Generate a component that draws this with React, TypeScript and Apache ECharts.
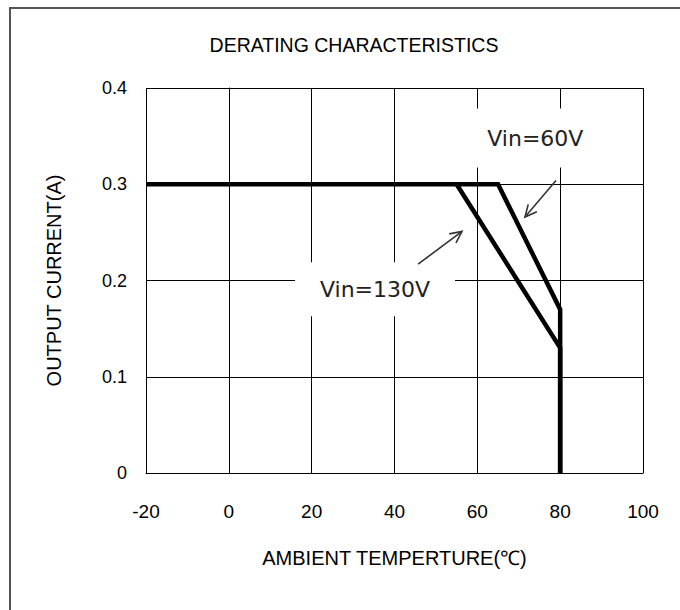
import React, { useEffect, useRef } from "react";
import * as echarts from "echarts";

const xTicks = [-20, 0, 20, 40, 60, 80, 100];
const yTicks = [0, 0.1, 0.2, 0.3, 0.4];
const vin60: [number, number][] = [[-20, 0.3], [65, 0.3], [80, 0.17], [80, 0]];
const vin130: [number, number][] = [[55, 0.3], [80, 0.13], [80, 0]];
const label60 = { text: "Vin=60V", at: [74, 0.348] };
const label130 = { text: "Vin=130V", at: [35.3, 0.191] };
const arrow60 = { from: [79, 0.304], to: [71.5, 0.266] };
const arrow130 = { from: [45.7, 0.217], to: [56.3, 0.251] };

const FONT = "Liberation Sans";

export default function App() {
  const ref = useRef<HTMLDivElement>(null);
  useEffect(() => {
    if (!ref.current) return;
    const chart = echarts.init(ref.current, null, { renderer: "svg" });
    const option: any = {
      animation: false,
      backgroundColor: "#fff",
      title: {
        text: "DERATING CHARACTERISTICS",
        left: 349,
        top: 30,
        textAlign: "center",
        textStyle: { fontFamily: FONT, fontSize: 19.5, fontWeight: "normal", color: "#000" },
      },
      grid: { left: 146, right: 37, top: 88, bottom: 137 },
      xAxis: {
        type: "value",
        min: xTicks[0],
        max: xTicks[xTicks.length - 1],
        interval: 20,
        name: "AMBIENT TEMPERTURE(℃)",
        nameLocation: "middle",
        nameGap: 75,
        nameMoveOverlap: false,
        nameTextStyle: { fontFamily: FONT, fontSize: 20, color: "#000" },
        axisLine: { show: true, lineStyle: { color: "#000", width: 1 } },
        axisTick: { show: false },
        axisLabel: { fontFamily: FONT, fontSize: 19, color: "#000", margin: 29 },
        splitLine: { show: true, lineStyle: { color: "#000", width: 1 } },
      },
      yAxis: {
        type: "value",
        min: yTicks[0],
        max: yTicks[yTicks.length - 1],
        interval: 0.1,
        name: "OUTPUT CURRENT(A)",
        nameLocation: "middle",
        nameGap: 82,
        nameRotate: 90,
        nameMoveOverlap: false,
        nameTextStyle: { fontFamily: FONT, fontSize: 20, color: "#000" },
        axisLine: { show: true, lineStyle: { color: "#000", width: 1 } },
        axisTick: { show: false },
        axisLabel: { fontFamily: FONT, fontSize: 18, color: "#000", margin: 19 },
        splitLine: { show: true, lineStyle: { color: "#000", width: 1 } },
      },
      series: [
        {
          name: "Vin=60V",
          type: "line",
          data: vin60,
          symbol: "none",
          lineStyle: { color: "#000", width: 4.5, join: "miter" },
          z: 5,
        },
        {
          name: "Vin=130V",
          type: "line",
          data: vin130,
          symbol: "none",
          lineStyle: { color: "#000", width: 4.5, join: "miter" },
          z: 5,
        },
      ],
    };
    chart.setOption(option);

    const px = (p: number[]) => chart.convertToPixel({ gridIndex: 0 }, p) as number[];
    const arrowEls = (a: { from: number[]; to: number[] }) => {
      const f = px(a.from);
      const t = px(a.to);
      const ang = Math.atan2(t[1] - f[1], t[0] - f[0]);
      const len = 13;
      const spread = Math.PI / 7;
      const p1 = [t[0] - len * Math.cos(ang - spread), t[1] - len * Math.sin(ang - spread)];
      const p2 = [t[0] - len * Math.cos(ang + spread), t[1] - len * Math.sin(ang + spread)];
      return [
        { type: "line", z: 20, shape: { x1: f[0], y1: f[1], x2: t[0], y2: t[1] }, style: { stroke: "#333", lineWidth: 1.6 } },
        { type: "polyline", z: 20, shape: { points: [p1, t, p2] }, style: { stroke: "#333", lineWidth: 1.6, fill: null } },
      ];
    };
    const labelEls = (l: { text: string; at: number[] }, w: number, h: number) => {
      const c = px(l.at);
      return [
        { type: "rect", z: 10, shape: { x: c[0] - w / 2, y: c[1] - h / 2, width: w, height: h }, style: { fill: "#fff" } },
        {
          type: "text",
          z: 11,
          x: c[0],
          y: c[1],
          style: { text: l.text, fontFamily: "DejaVu Sans", fontSize: 22, fill: "#222", align: "center", verticalAlign: "middle" },
        },
      ];
    };
    chart.setOption({
      graphic: [
        { type: "rect", z: 30, shape: { x: 10, y: 8, width: 720, height: 720 }, style: { stroke: "#555", lineWidth: 2, fill: null } },
        ...labelEls(label60, 130, 59),
        ...labelEls(label130, 160, 54),
        ...arrowEls(arrow60),
        ...arrowEls(arrow130),
      ],
    });
    return () => chart.dispose();
  }, []);
  return <div ref={ref} style={{ position: "fixed", left: 0, top: 0, width: 680, height: 610 }} />;
}
